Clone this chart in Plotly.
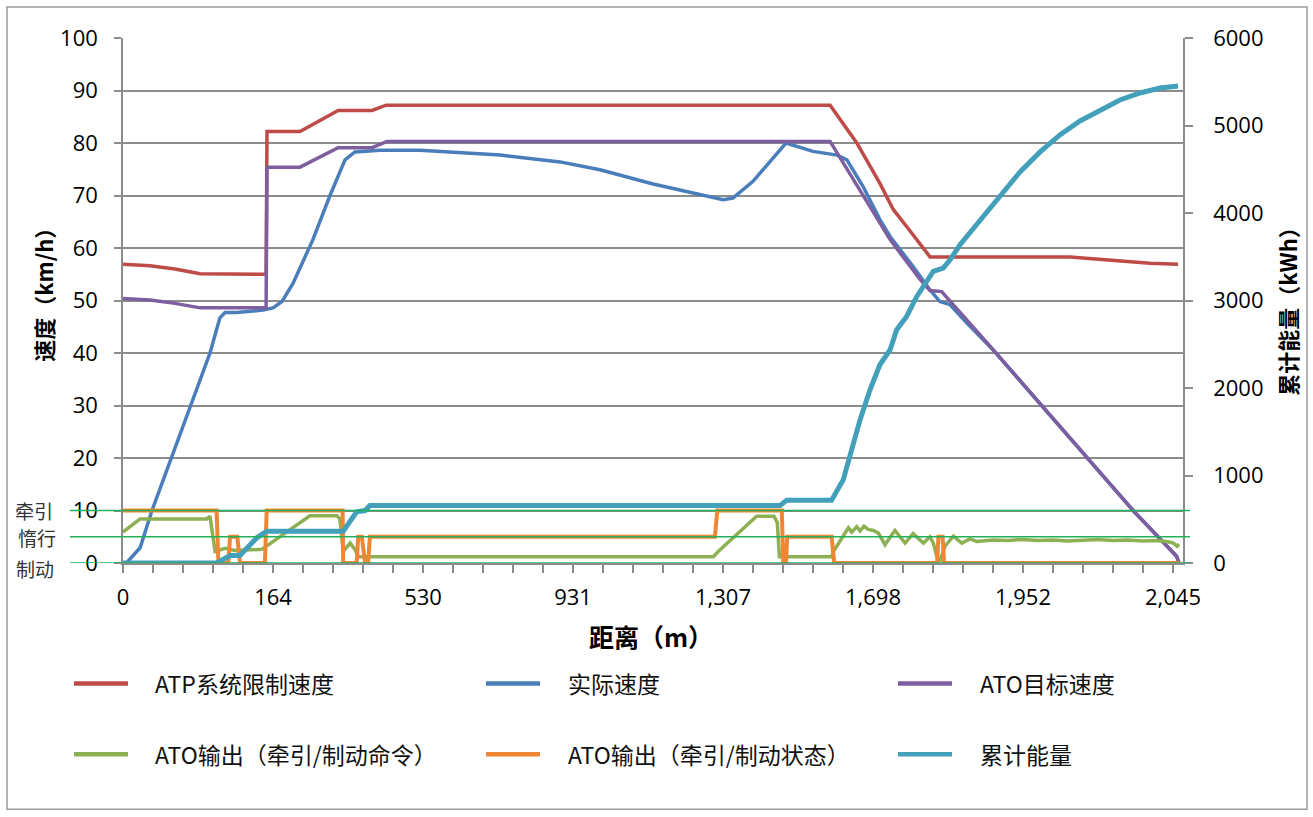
import plotly.graph_objects as go

# ---- sample index (x) and values for each series ----
dist_tick_idx = [0, 50, 100, 150, 200, 250, 300, 350]
dist_tick_text = ["0", "164", "530", "931", "1,307", "1,698", "1,952", "2,045"]

atp_x = [0, 9.0, 17.3, 25.7, 47.7, 48.0, 59.0, 71.7, 83.0, 87.7, 235.7, 244.6, 252.3,
         256.8, 261.2, 269.0, 315.7, 329.0, 342.3, 351.7]
atp_v = [56.9, 56.6, 56.0, 55.1, 55.0, 82.2, 82.2, 86.2, 86.2, 87.2, 87.2, 80.0, 72.3,
         67.3, 64.1, 58.3, 58.3, 57.7, 57.1, 56.9]

act_x = [0, 1.3, 5.7, 9.6, 29.0, 32.3, 34.0, 38.0, 46.7, 50.0, 53.0, 56.7, 63.3, 69.0,
         74.0, 77.3, 85.7, 99.0, 125.7, 145.7, 159.0, 176.7, 200.0, 203.3, 210.0, 221.0,
         230.0, 238.0, 241.3, 246.7, 252.3, 255.7, 263.3, 269.0, 272.3, 275.7, 281.3,
         290.0, 336.7, 345.0, 351.2, 352.0]
act_v = [0, 0.1, 2.9, 9.9, 40.0, 46.7, 47.7, 47.7, 48.2, 48.6, 49.8, 53.3, 61.6, 70.0,
         76.8, 78.3, 78.6, 78.6, 77.7, 76.4, 74.9, 72.2, 69.2, 69.5, 72.7, 80.0,
         78.4, 77.7, 76.8, 71.7, 65.4, 62.2, 56.5, 52.0, 49.8, 49.2, 45.7,
         40.6, 10.0, 5.0, 1.3, 0.0]

tgt_x = [0, 9.0, 16.8, 25.7, 47.7, 48.0, 59.0, 71.7, 83.0, 88.0, 235.7, 246.8, 255.7,
         265.7, 269.0, 272.9, 290.1, 336.7, 345.0, 351.2, 352.0]
tgt_v = [50.4, 50.1, 49.5, 48.6, 48.6, 75.4, 75.4, 79.1, 79.1, 80.3, 80.3, 69.8, 61.6,
         54.0, 51.9, 51.7, 40.6, 10.0, 5.0, 1.3, 0.0]

cmd_x = [0, 5.7, 27.9, 29.0, 30.7, 34.0, 37.3, 46.3, 62.3, 71.3, 72.3, 73.0, 73.4, 75.7,
         77.3, 78.4, 196.8, 198.4, 211.2, 217.0, 218.1, 218.8, 236.2, 236.8, 241.8,
         242.9, 244.6, 245.7, 247.0, 248.4, 250.1, 251.8, 254.0, 257.3, 260.7, 263.4,
         266.8, 269.0, 270.1, 271.4, 272.3, 274.0, 276.8, 279.6, 282.3, 284.6, 290.0,
         295.0, 300.0, 305.0, 310.0, 315.0, 320.0, 325.0, 330.0, 335.0, 340.0, 344.0,
         347.9, 350.1, 351.4, 352.0]
cmd_v = [5.9, 8.4, 8.4, 8.9, 2.2, 2.8, 2.4, 2.6, 9.0, 9.0, 8.4, 3.2, 2.2, 3.8,
         2.6, 1.2, 1.2, 2.2, 8.9, 8.9, 7.7, 1.2, 1.2, 2.2, 6.7,
         5.9, 6.9, 6.1, 7.0, 6.4, 6.2, 5.7, 3.5, 6.2, 3.8, 5.6,
         3.8, 5.0, 3.8, 1.0, 0.3, 3.2, 5.1, 3.8, 4.6, 4.1, 4.4,
         4.3, 4.5, 4.3, 4.4, 4.2, 4.4, 4.5, 4.3, 4.4, 4.2, 4.3,
         4.1, 3.8, 3.2, 3.6]

state_x = [0, 31.2, 31.8, 35.1, 35.7, 38.1, 39.0, 47.3, 47.9, 73.2, 73.4, 77.9, 78.4,
           79.6, 80.7, 81.7, 82.3, 197.3, 198.1, 219.6, 220.1, 221.0, 221.4, 236.2,
           237.1, 271.4, 271.8, 273.2, 273.7, 352.0]
state_v = [10, 10, 0, 0, 5, 5, 0, 0, 10, 10, 0, 0, 5,
           5, 0, 0, 5, 5, 10, 10, 0, 0, 5, 5,
           0, 0, 5, 5, 0, 0]

energy_x = [0, 31.2, 35.7, 39.0, 44.6, 47.9, 73.4, 76.2, 77.9, 80.7, 82.3, 219.0, 221.2,
            236.2, 237.9, 240.1, 245.7, 249.0, 252.3, 255.7, 257.9, 261.2, 264.6, 270.1,
            273.4, 275.7, 279.0, 285.7, 292.3, 299.0, 305.7, 312.3, 319.0, 325.7, 332.3,
            339.0, 345.7, 351.7]
energy_kwh = [0, 0, 86, 86, 288, 363, 363, 516, 585, 599, 656, 656, 717,
              717, 820, 953, 1638, 1980, 2266, 2437, 2666, 2818, 3046, 3332,
              3370, 3465, 3637, 3922, 4207, 4470, 4698, 4893, 5052, 5178, 5292,
              5372, 5429, 5452]

series_names = ["ATP系统限制速度", "实际速度", "ATO目标速度",
                "ATO输出（牵引/制动命令）", "ATO输出（牵引/制动状态）", "累计能量"]
series_colors = ["#BE4B48", "#4A7EBB", "#7D5FA0", "#8DB052", "#EE8633", "#43A0BA"]
series_widths = [3.5, 3.5, 3.5, 3.5, 4, 5]

# ---- page geometry (pixels) ----
W, H = 1313, 817
PL, PR, PT, PB = 123, 1183, 38, 563.5


def px_x(px):
    return (px - PL) / (PR - PL)


def px_y(py):
    return (PB - py) / (PB - PT)


CJK = "Noto Sans CJK SC"
NUM = "Open Sans"
GRID = "#8C8C8C"

fig = go.Figure()
data = [(atp_x, atp_v, "y"), (act_x, act_v, "y"), (tgt_x, tgt_v, "y"),
        (cmd_x, cmd_v, "y"), (state_x, state_v, "y"), (energy_x, energy_kwh, "y2")]
for (xs, ys, ax), name, col, lw in zip(data, series_names, series_colors, series_widths):
    fig.add_trace(go.Scatter(x=xs, y=ys, yaxis=ax, mode="lines", name=name,
                             line=dict(color=col, width=lw), showlegend=False,
                             hoverinfo="skip"))

shapes = []
annotations = []

# outer chart frame
shapes.append(dict(type="rect", xref="paper", yref="paper",
                   x0=px_x(7), x1=px_x(1307), y0=px_y(810), y1=px_y(7),
                   line=dict(color="#9A9A9A", width=1.5), layer="below"))

# traction / coast / brake reference lines
for lvl in (10, 5, 0):
    shapes.append(dict(type="line", xref="paper", yref="y", x0=px_x(70), x1=px_x(1190),
                       y0=lvl, y1=lvl, line=dict(color="#22B05A", width=1.3),
                       layer="above"))
for txt, cx, cy in (("牵引", 34, 511), ("惰行", 37, 538), ("制动", 35, 569)):
    annotations.append(dict(text=txt, xref="paper", yref="paper", x=px_x(cx), y=px_y(cy),
                            showarrow=False, xanchor="center", yanchor="middle",
                            font=dict(family=CJK, size=19, color="#333333")))

# legend drawn as swatches + labels
leg_cols = [(74, 153), (486, 566), (898, 978)]
leg_rows = [684, 755]
for i, (name, col) in enumerate(zip(series_names, series_colors)):
    (lx, tx), ly = leg_cols[i % 3], leg_rows[i // 3]
    shapes.append(dict(type="line", xref="paper", yref="paper",
                       x0=px_x(lx), x1=px_x(lx + 54), y0=px_y(ly), y1=px_y(ly),
                       line=dict(color=col, width=4.5)))
    annotations.append(dict(text=name, xref="paper", yref="paper", x=px_x(tx), y=px_y(ly),
                            showarrow=False, xanchor="left", yanchor="middle",
                            font=dict(family=CJK, size=23, color="#111111")))

# axis titles
annotations.append(dict(text="<b>速度（km/h）</b>", xref="paper", yref="paper",
                        x=px_x(43), y=px_y(290), textangle=-90, showarrow=False,
                        xanchor="center", yanchor="middle",
                        font=dict(family=CJK, size=22, color="#000000")))
annotations.append(dict(text="<b>累计能量（kWh）</b>", xref="paper", yref="paper",
                        x=px_x(1287), y=px_y(306), textangle=-90, showarrow=False,
                        xanchor="center", yanchor="middle",
                        font=dict(family=CJK, size=22, color="#000000")))
annotations.append(dict(text="<b>距离（m）</b>", xref="paper", yref="paper",
                        x=px_x(651), y=px_y(637), showarrow=False,
                        xanchor="center", yanchor="middle",
                        font=dict(family=CJK, size=25, color="#000000")))

fig.update_layout(
    width=W, height=H,
    margin=dict(l=PL, r=W - PR, t=PT, b=H - PB, pad=0),
    paper_bgcolor="white", plot_bgcolor="white",
    shapes=shapes, annotations=annotations,
    xaxis=dict(range=[0, (PR - PL) / 3], tickmode="array", tickvals=dist_tick_idx,
               ticktext=dist_tick_text, ticks="outside", ticklen=8, tickwidth=1.5,
               tickcolor=GRID, showline=True, linecolor=GRID, linewidth=1.5,
               showgrid=False, zeroline=False, ticklabelstandoff=6,
               tickfont=dict(family=NUM, size=22, color="#000000"),
               minor=dict(tickvals=list(range(0, 353, 10)), ticks="outside", ticklen=8,
                          tickwidth=1.5, tickcolor=GRID, showgrid=False)),
    yaxis=dict(range=[0, 100], dtick=10, tick0=0, ticks="outside", ticklen=7,
               tickwidth=1.5, tickcolor=GRID, showline=True, linecolor=GRID,
               linewidth=1.5, showgrid=True, gridcolor=GRID, gridwidth=1.5,
               zeroline=False, ticklabelstandoff=12,
               tickfont=dict(family=NUM, size=22, color="#000000")),
    yaxis2=dict(range=[0, 6000], dtick=1000, tick0=0, overlaying="y", side="right",
                ticks="outside", ticklen=8, tickwidth=1.5, tickcolor=GRID,
                showline=True, linecolor=GRID, linewidth=1.5, showgrid=False,
                zeroline=False, ticklabelstandoff=16,
                tickfont=dict(family=NUM, size=22, color="#000000")),
)

fig.write_html("out.html")
